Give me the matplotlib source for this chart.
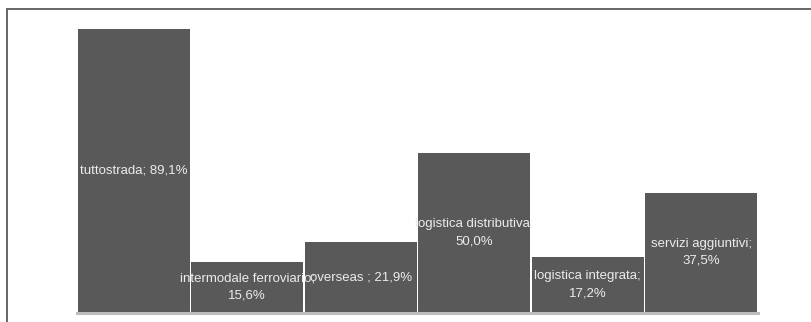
import matplotlib
matplotlib.use("Agg")
import matplotlib.pyplot as plt
from matplotlib.patches import Rectangle

plt.rcParams["font.family"] = ["Liberation Sans Narrow", "Liberation Sans", "DejaVu Sans"]

categories = ["tuttostrada;", "intermodale ferroviario;", "overseas ;",
              "logistica distributiva;", "logistica integrata;", "servizi aggiuntivi;"]
values = [89.1, 15.6, 21.9, 50.0, 17.2, 37.5]
value_labels = ["89,1%", "15,6%", "21,9%", "50,0%", "17,2%", "37,5%"]
# label on one line or wrapped to two
one_line = [True, False, True, False, False, False]

W, H = 812, 322
fig = plt.figure(figsize=(W / 100, H / 100), dpi=100)

# outer frame
fig.patches.append(Rectangle((7 / W, -0.1), 1.2, (H - 9) / H + 0.1,
                             transform=fig.transFigure, fill=False,
                             edgecolor="#5a5a5a", linewidth=1.3))

ymax = 95
px_per_unit = (312 - 29) / values[0]
ax_h = ymax * px_per_unit
ax = fig.add_axes([77 / W, (H - 312) / H, (758 - 77) / W, ax_h / H])

x = range(len(values))
bars = ax.bar(x, values, width=0.985, color="#595959", edgecolor="none")
ax.set_xlim(-0.5, len(values) - 0.5)
ax.set_ylim(0, ymax)
ax.axis("off")

# baseline
ax.axhline(-0.4, color="#bdbdbd", linewidth=2.2, clip_on=False)

for i, (b, cat, val, one) in enumerate(zip(bars, categories, value_labels, one_line)):
    txt = f"{cat} {val}" if one else f"{cat}\n{val}"
    ax.text(b.get_x() + b.get_width() / 2, b.get_height() / 2, txt,
            ha="center", va="center", color="#ececec", fontsize=9.5,
            linespacing=1.55, clip_on=False)

fig.savefig("out.png", dpi=100)
